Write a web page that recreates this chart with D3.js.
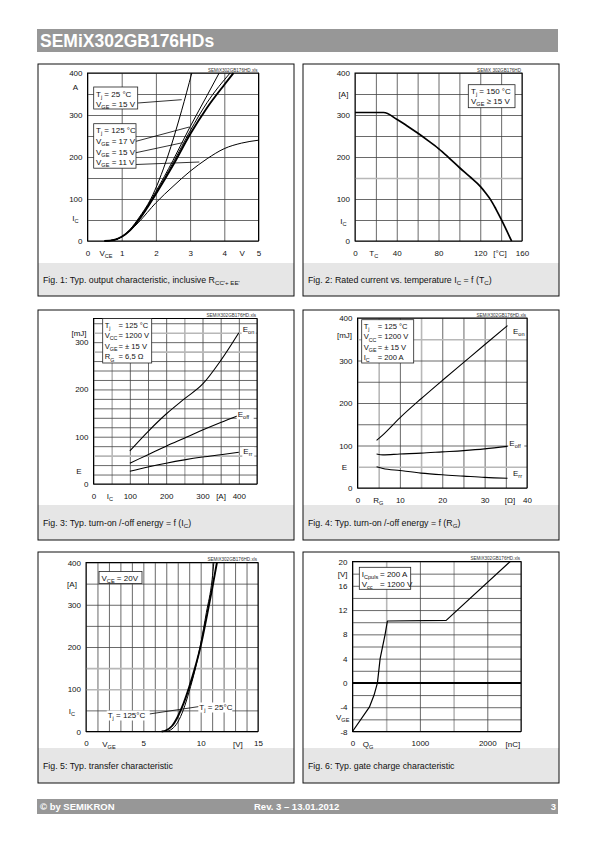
<!DOCTYPE html>
<html><head><meta charset="utf-8">
<script src="https://cdn.jsdelivr.net/npm/d3@7"></script>
<style>body{margin:0;background:#fff}svg{display:block}</style>
</head><body><svg id="c" width="595" height="842"></svg>
<script>
// ---------------- DATA ----------------
// Fig 1: output characteristic  IC = f(VCE)
const fig1XTicks = [0,1,2,3,4,5];
const fig1YTicks = [0,100,200,300,400];
const fig1Vce_25_15  = [0.5,0.75,1,1.25,1.5,1.85,2.34,2.75,3.05];
const fig1Ic_25_15   = [0,2,10,28,55,100,200,310,400];
const fig1Vce_125_17 = [0.5,0.75,1,1.25,1.5,2,2.5,3,3.5,3.85];
const fig1Ic_125_17  = [0,2,10,27,52,118,192,272,347,400];
const fig1Vce_125_15 = [0.5,0.75,1,1.25,1.5,2,2.5,3,3.5,4,4.27];
const fig1Ic_125_15  = [0,2,10,26,50,112,180,254,318,372,400];
const fig1Vce_125_15b = [0.5,0.75,1,1.25,1.5,2,2.5,3,3.5,4.17];
const fig1Ic_125_15b  = [0,2,10,26,50,114,186,262,330,400];
const fig1Vce_125_11 = [0.5,0.75,1,1.25,1.5,2,2.5,3,3.5,4,4.5,5];
const fig1Ic_125_11  = [0,2,10,25,45,91,130,166,196,220,233,240];

// Fig 2: rated current vs case temperature
const fig2XTicks = [0,40,80,120,160];
const fig2YTicks = [0,100,200,300,400];
const fig2Tc = [0,27.4,40,50,60,70,80,90,100,110,120,125,130,135,140,150];
const fig2Ic = [306,306,290,274,257,239,220,198,175,153,130,115,98,76,52,0];

// Fig 3: switching energy vs IC
const fig3XTicks = [0,100,200,300,400];
const fig3YTicks = [0,100,200,300];
const fig3Ic   = [100,150,200,250,300,350,400];
const fig3Eon  = [70,111,148,180,211,261,320];
const fig3Eoff = [44,62,80,97,114,130,145];
const fig3Err  = [27,36,44,51,57,62,67];

// Fig 4: switching energy vs RG
const fig4XTicks = [0,10,20,30,40];
const fig4YTicks = [0,100,200,300,400];
const fig4Rg   = [4.5,6,10,15,20,25,30,35.4];
const fig4Eon  = [112,125,165,210,253,295,337,382];
const fig4Eoff = [80,78,80,82,85,88,92,98];
const fig4Err  = [50,46,41,35,31,28,25,23];

// Fig 5: transfer characteristic
const fig5XTicks = [0,5,10,15];
const fig5YTicks = [0,100,200,300,400];
const fig5Vge_125 = [6.6,7.0,7.5,8.0,8.5,9.0,9.5,10.0,10.5,11.0,11.42];
const fig5Ic_125  = [0,3,13,35,66,105,150,202,268,338,400];
const fig5Vge_25  = [7.0,7.5,8.0,8.5,9.0,9.5,10.0,10.5,11.0,11.15];
const fig5Ic_25   = [0,6,22,52,95,145,207,282,360,400];

// Fig 6: gate charge
const fig6XTicks = [0,1000,2000];
const fig6YTicks = [20,16,12,8,4,0,-4,-8];
const fig6Qg  = [0,250,320,370,410,484,518,1390,2340];
const fig6Vge = [-8,-4,-2,0,4,8,10.2,10.3,20];

// ---------------- DRAWING ----------------
const FONT = '"Liberation Sans", Arial, Helvetica, sans-serif';
const svg = d3.select('#c').attr('font-family', FONT);

function rich(sel, s, fs) {
  const re = /_\{([^}]*)\}/g; let last = 0, m, shift = 0; const sub = fs * 0.3;
  while ((m = re.exec(s))) {
    if (m.index > last) { sel.append('tspan').attr('dy', -shift).text(s.slice(last, m.index)); shift = 0; }
    sel.append('tspan').attr('dy', sub - shift).attr('font-size', fs * 0.7).text(m[1]); shift = sub;
    last = re.lastIndex;
  }
  if (last < s.length) sel.append('tspan').attr('dy', -shift).text(s.slice(last));
  return sel;
}
function txt(g, x, y, s, fs, anchor, fill) {
  const t = g.append('text').attr('x', x).attr('y', y).attr('font-size', fs)
    .attr('text-anchor', anchor || 'start').attr('fill', fill || '#111');
  return rich(t, s, fs);
}

// header / footer
svg.append('rect').attr('x', 37).attr('y', 29).attr('width', 521).attr('height', 23).attr('fill', '#979797');
svg.append('text').attr('x', 40).attr('y', 47).attr('font-size', 17.5).attr('font-weight', 'bold').attr('fill', '#fff').text('SEMiX302GB176HDs');
svg.append('rect').attr('x', 37).attr('y', 799).attr('width', 521).attr('height', 15).attr('fill', '#979797');
svg.append('text').attr('x', 40).attr('y', 810).attr('font-size', 9.5).attr('font-weight', 'bold').attr('fill', '#fff').text('© by SEMIKRON');
svg.append('text').attr('x', 254).attr('y', 810).attr('font-size', 9.5).attr('font-weight', 'bold').attr('fill', '#fff').text('Rev. 3 – 13.01.2012');
svg.append('text').attr('x', 556).attr('y', 810).attr('font-size', 9.5).attr('font-weight', 'bold').attr('fill', '#fff').attr('text-anchor', 'end').text('3');

// panels
const panels = [
  {x:38, y:64, w:256, h:232, band:263, cap:"Fig. 1: Typ. output characteristic, inclusive R_{CC'+ EE'}"},
  {x:303,y:64, w:256, h:232, band:263, cap:"Fig. 2: Rated current vs. temperature I_{C} = f (T_{C})"},
  {x:38, y:310,w:256, h:230, band:505, cap:"Fig. 3: Typ. turn-on /-off energy = f (I_{C})"},
  {x:303,y:310,w:256, h:230, band:505, cap:"Fig. 4: Typ. turn-on /-off energy = f (R_{G})"},
  {x:38, y:552,w:256, h:231, band:748, cap:"Fig. 5: Typ. transfer characteristic"},
  {x:303,y:552,w:256, h:231, band:748, cap:"Fig. 6: Typ. gate charge characteristic"}
];
panels.forEach(p => {
  svg.append('rect').attr('x', p.x).attr('y', p.y).attr('width', p.w).attr('height', p.h).attr('fill', '#fff');
  svg.append('rect').attr('x', p.x).attr('y', p.band).attr('width', p.w).attr('height', p.y + p.h - p.band).attr('fill', '#e6e6e6');
  svg.append('rect').attr('x', p.x).attr('y', p.y).attr('width', p.w).attr('height', p.h).attr('fill', 'none').attr('stroke', '#111').attr('stroke-width', 1);
  txt(svg, p.x + 5, (p.band + p.y + p.h) / 2 + 3, p.cap, 8.8);
});

function chart(c) {
  const g = svg.append('g');
  const x = d3.scaleLinear().domain(c.xDom).range([c.px0, c.px1]);
  const y = d3.scaleLinear().domain(c.yDom).range([c.py0, c.py1]);
  const W = c.px1 - c.px0, H = c.py0 - c.py1;
  const soft = (arr, d) => arr && arr.includes(d);
  const gx = g.append('g').attr('transform', `translate(0,${c.py0})`)
    .call(d3.axisBottom(x).tickValues(c.xGrid).tickSize(-H).tickFormat(''));
  gx.select('.domain').remove();
  gx.selectAll('line').attr('stroke', d => soft(c.softX, d) ? '#b8b8b8' : '#444').attr('stroke-width', d => soft(c.softX, d) ? 1.6 : 0.8);
  const gy = g.append('g').attr('transform', `translate(${c.px0},0)`)
    .call(d3.axisLeft(y).tickValues(c.yGrid).tickSize(-W).tickFormat(''));
  gy.select('.domain').remove();
  gy.selectAll('line').attr('stroke', d => soft(c.softY, d) ? '#b8b8b8' : '#444').attr('stroke-width', d => soft(c.softY, d) ? 1.6 : 0.8);
  g.append('rect').attr('x', c.px0).attr('y', c.py1).attr('width', W).attr('height', H)
    .attr('fill', 'none').attr('stroke', '#000').attr('stroke-width', 1);
  // tick labels
  const ax = g.append('g').attr('transform', `translate(0,${c.py0})`)
    .call(d3.axisBottom(x).tickValues(c.xTicks).tickSize(0).tickPadding(9).tickFormat(d => String(d)));
  ax.select('.domain').remove();
  ax.attr('font-size', 8).attr('font-family', FONT).selectAll('text').attr('fill', '#111');
  const ay = g.append('g').attr('transform', `translate(${c.px0},0)`)
    .call(d3.axisLeft(y).tickValues(c.yTicks).tickSize(0).tickPadding(5).tickFormat(d => String(d)));
  ay.select('.domain').remove();
  ay.attr('font-size', 8).attr('font-family', FONT).selectAll('text').attr('fill', '#111');
  // unit labels
  (c.xUnits || []).forEach(u => txt(g, x(u.v), c.py0 + 15, u.t, 8, 'middle'));
  (c.yUnits || []).forEach(u => txt(g, c.yUnitX, y(u.v) + 3, u.t, 8, 'middle'));
  // file tag
  g.append('text').attr('x', c.px1 - 1).attr('y', c.py1 - 1.5).attr('font-size', 4.6).attr('text-anchor', 'end').attr('fill', '#333').text(c.tag);
  if (c.zeroLine) g.append('line').attr('x1', c.px0).attr('x2', c.px1).attr('y1', y(0)).attr('y2', y(0)).attr('stroke', '#000').attr('stroke-width', 2);
  // series
  c.series.forEach(s => {
    const line = d3.line().x(d => x(d[0])).y(d => y(d[1])).curve(s.curve || d3.curveMonotoneX);
    g.append('path').datum(d3.zip(s.x, s.y)).attr('d', line)
      .attr('fill', 'none').attr('stroke', '#000').attr('stroke-width', s.w || 1).attr('stroke-linejoin', 'round');
  });
  return g;
}
function box(g, x, y, w, h) {
  g.append('rect').attr('x', x).attr('y', y).attr('width', w).attr('height', h).attr('fill', '#fff').attr('stroke', '#222').attr('stroke-width', 0.8);
}
function lead(g, x1, y1, x2, y2) {
  g.append('line').attr('x1', x1).attr('y1', y1).attr('x2', x2).attr('y2', y2).attr('stroke', '#000').attr('stroke-width', 0.8);
}
function bgLabel(g, x, y, w, s) {
  g.append('rect').attr('x', x - 1).attr('y', y - 7).attr('width', w + 2).attr('height', 10).attr('fill', '#fff');
  txt(g, x, y, s, 8);
}
const range = (a, b, s) => d3.range(a, b + s / 2, s);

// Fig 1
const g1 = chart({
  xDom:[0,5], yDom:[0,400], px0:87.5, px1:258.5, py0:241, py1:73,
  xGrid:range(0,5,1), yGrid:range(0,400,50), xTicks:fig1XTicks, yTicks:fig1YTicks,
  xUnits:[{t:'V_{CE}', v:0.54}, {t:'V', v:4.52}], yUnitX:75.5, yUnits:[{t:'A', v:366}, {t:'I_{C}', v:55}],
  tag:'SEMiX302GB176HD.xls',
  series:[
    {x:fig1Vce_25_15, y:fig1Ic_25_15},
    {x:fig1Vce_125_17, y:fig1Ic_125_17},
    {x:fig1Vce_125_15b, y:fig1Ic_125_15b},
    {x:fig1Vce_125_15, y:fig1Ic_125_15, w:1.9},
    {x:fig1Vce_125_11, y:fig1Ic_125_11}
  ]
});
lead(g1, 137.7, 103, 181.7, 99.7);
lead(g1, 136, 141.3, 189.3, 127);
lead(g1, 136, 152.7, 182.7, 142.7);
lead(g1, 136, 164.5, 199.3, 162);
box(g1, 93.7, 87, 44, 22);
txt(g1, 96, 97, 'T_{j} = 25 °C', 8);
txt(g1, 96, 106.5, 'V_{GE} = 15 V', 8);
box(g1, 93.7, 123.7, 42.3, 44.5);
txt(g1, 96, 132.5, 'T_{j} = 125 °C', 8);
txt(g1, 96, 143.5, 'V_{GE} = 17 V', 8);
txt(g1, 96, 154.5, 'V_{GE} = 15 V', 8);
txt(g1, 96, 165, 'V_{GE} = 11 V', 8);

// Fig 2
const g2 = chart({
  xDom:[0,160], yDom:[0,400], px0:355, px1:522, py0:241, py1:73,
  xGrid:range(0,160,20), yGrid:range(0,400,50), softY:[150], xTicks:fig2XTicks, yTicks:fig2YTicks,
  xUnits:[{t:'T_{C}', v:18}, {t:'[°C]', v:139}], yUnitX:343.5, yUnits:[{t:'[A]', v:350}, {t:'I_{C}', v:48}],
  tag:'SEMiX 302GB176HD',
  series:[{x:fig2Tc, y:fig2Ic, w:1.7}]
});
box(g2, 468.3, 84.7, 46.7, 23);
txt(g2, 471, 93.5, 'T_{j} = 150 °C', 8);
txt(g2, 471, 104, 'V_{GE} ≥ 15 V', 8);

// Fig 3
const g3 = chart({
  xDom:[0,450], yDom:[0,350], px0:93.5, px1:257, py0:484, py1:318.5,
  xGrid:range(0,450,50), yGrid:range(0,340,20), softX:[50,250], softY:[60,280,320],
  xTicks:fig3XTicks, yTicks:fig3YTicks,
  xUnits:[{t:'I_{C}', v:45}, {t:'[A]', v:351}], yUnitX:79, yUnits:[{t:'[mJ]', v:320}, {t:'E', v:28}],
  tag:'SEMiX302GB176HD.xls',
  series:[{x:fig3Ic, y:fig3Eon, w:1.1}, {x:fig3Ic, y:fig3Eoff, w:1.1}, {x:fig3Ic, y:fig3Err, w:1.1}]
});
box(g3, 102.7, 318.5, 49, 44.5);
[['T_{j}','= 125 °C'],['V_{CC}','= 1200 V'],['V_{GE}','= ± 15 V'],['R_{G}','= 6,5 Ω']].forEach((r, i) => {
  txt(g3, 104.7, 327.5 + i * 10.6, r[0], 7.6); txt(g3, 118.5, 327.5 + i * 10.6, r[1], 7.6);
});
bgLabel(g3, 242.7, 332, 12, 'E_{on}');
bgLabel(g3, 237.7, 416.5, 15, 'E_{off}');
bgLabel(g3, 243.3, 454, 10, 'E_{rr}');

// Fig 4
const g4 = chart({
  xDom:[0,40], yDom:[0,400], px0:357.5, px1:527, py0:488, py1:318,
  xGrid:range(0,40,5), yGrid:range(0,400,50), softX:[5,15], softY:[50,350],
  xTicks:fig4XTicks, yTicks:fig4YTicks,
  xUnits:[{t:'R_{G}', v:4.9}, {t:'[Ω]', v:36}], yUnitX:344.5, yUnits:[{t:'[mJ]', v:360}, {t:'E', v:49}],
  tag:'SEMiX302GB176HD.xls',
  series:[{x:fig4Rg, y:fig4Eon, w:1.1}, {x:fig4Rg, y:fig4Eoff, w:1.1}, {x:fig4Rg, y:fig4Err, w:1.1}]
});
box(g4, 361.7, 319.7, 52, 43.3);
[['T_{j}','= 125 °C'],['V_{CC}','= 1200 V'],['V_{GE}','= ± 15 V'],['I_{C}','= 200 A']].forEach((r, i) => {
  txt(g4, 363.7, 329 + i * 10.3, r[0], 7.6); txt(g4, 377.7, 329 + i * 10.3, r[1], 7.6);
});
bgLabel(g4, 513, 333.5, 11, 'E_{on}');
bgLabel(g4, 509.3, 445.5, 14, 'E_{off}');
bgLabel(g4, 513, 475.5, 10, 'E_{rr}');

// Fig 5
const g5 = chart({
  xDom:[0,15], yDom:[0,400], px0:86, px1:258, py0:731.5, py1:562.5,
  xGrid:range(0,15,1), yGrid:range(0,400,50), softY:[100,150],
  xTicks:fig5XTicks, yTicks:fig5YTicks,
  xUnits:[{t:'V_{GE}', v:2}, {t:'[V]', v:13.25}], yUnitX:72, yUnits:[{t:'[A]', v:350}, {t:'I_{C}', v:49}],
  tag:'SEMiX302GB176HD.xls',
  series:[{x:fig5Vge_25, y:fig5Ic_25, w:1}, {x:fig5Vge_125, y:fig5Ic_125, w:1.9}]
});
box(g5, 99, 571.5, 43, 12);
txt(g5, 101.5, 580.5, 'V_{CE} = 20V', 8);
lead(g5, 149.3, 714, 199.3, 706.5);
bgLabel(g5, 107.7, 717.5, 41, 'T_{j} = 125°C');
bgLabel(g5, 199.3, 709.5, 32, 'T_{j} = 25°C');

// Fig 6
const g6 = chart({
  xDom:[0,2500], yDom:[-8,20], px0:352.5, px1:521, py0:731.5, py1:561.5,
  xGrid:range(0,2500,500), yGrid:range(-8,20,2), softX:[500,1500],
  xTicks:fig6XTicks, yTicks:fig6YTicks,
  xUnits:[{t:'Q_{G}', v:230}, {t:'[nC]', v:2380}], yUnitX:342.7, yUnits:[{t:'[V]', v:18}, {t:'V_{GE}', v:-5.6}],
  tag:'SEMiX302GB176HD.xls', zeroLine:true,
  series:[{x:fig6Qg, y:fig6Vge, w:1.2, curve:d3.curveLinear}]
});
box(g6, 359.3, 567.3, 51.4, 22);
txt(g6, 361.7, 576.5, 'I_{Cpuls}', 8); txt(g6, 380, 576.5, '= 200 A', 8);
txt(g6, 361.7, 586.5, 'V_{cc}', 8); txt(g6, 380, 586.5, '= 1200 V', 8);
</script>
</body></html>
